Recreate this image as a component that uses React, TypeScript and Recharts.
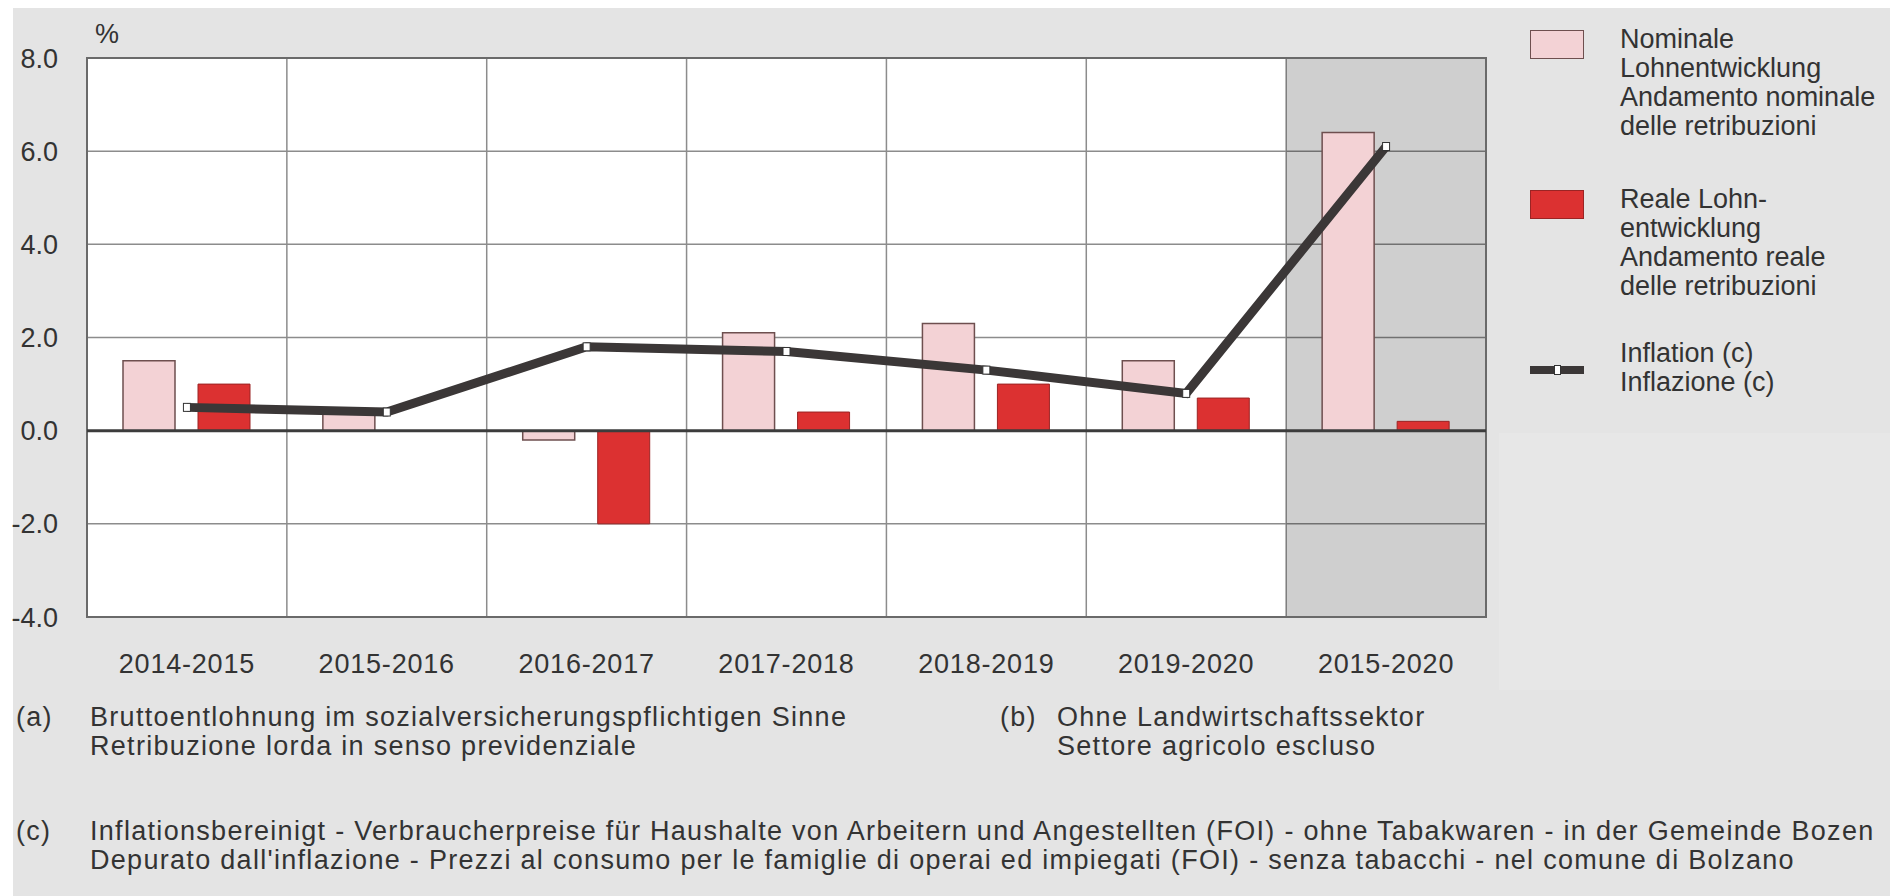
import React from 'react';
import {
  ComposedChart,
  Bar,
  Line,
  XAxis,
  YAxis,
  CartesianGrid,
  ReferenceArea,
  ReferenceLine,
} from 'recharts';

const categories = ['2014-2015', '2015-2016', '2016-2017', '2017-2018', '2018-2019', '2019-2020', '2015-2020'];
const nominalWages = [1.5, 0.4, -0.2, 2.1, 2.3, 1.5, 6.4];
const realWages = [1.0, 0.0, -2.0, 0.4, 1.0, 0.7, 0.2];
const inflationRates = [0.5, 0.4, 1.8, 1.7, 1.3, 0.8, 6.1];
const yTicks = [-4, -2, 0, 2, 4, 6, 8];
const highlightedCategory = '2015-2020';

const legendNominal = ['Nominale', 'Lohnentwicklung', 'Andamento nominale', 'delle retribuzioni'];
const legendReal = ['Reale Lohn-', 'entwicklung', 'Andamento reale', 'delle retribuzioni'];
const legendInflation = ['Inflation (c)', 'Inflazione (c)'];

const noteA = ['Bruttoentlohnung im sozialversicherungspflichtigen Sinne', 'Retribuzione lorda in senso previdenziale'];
const noteB = ['Ohne Landwirtschaftssektor', 'Settore agricolo escluso'];
const noteC = [
  'Inflationsbereinigt - Verbraucherpreise für Haushalte von Arbeitern und Angestellten (FOI) - ohne Tabakwaren - in der Gemeinde Bozen',
  "Depurato dall'inflazione - Prezzi al consumo per le famiglie di operai ed impiegati (FOI) - senza tabacchi - nel comune di Bolzano",
];

const data = categories.map((c, i) => ({
  cat: c,
  nominal: nominalWages[i],
  real: realWages[i],
  inflation: inflationRates[i],
}));

const FONT = '"Liberation Sans", Arial, Helvetica, sans-serif';
const TEXT = '#333333';
const BG = '#e4e4e4';
const PINK = '#f3d2d5';
const PINK_STROKE = '#6e4f4f';
const RED = '#dc3131';
const RED_STROKE = '#9b2424';
const LINE = '#3b3737';

const SquareDot = (props: any) => {
  const { cx, cy } = props;
  if (cx == null || cy == null) return null;
  return <rect x={cx - 3.5} y={cy - 4} width={7} height={8} fill="#ffffff" stroke="#333" strokeWidth={1} />;
};

const categoryBoundaries = ({ offset }: any) =>
  [...categories, ''].map((_, i) => offset.left + (offset.width * i) / categories.length);

const textStyle: React.CSSProperties = {
  position: 'absolute',
  fontFamily: FONT,
  fontSize: 27,
  letterSpacing: '1.3px',
  lineHeight: '29px',
  color: TEXT,
  whiteSpace: 'nowrap',
};

const LegendText = ({ lines, top }: { lines: string[]; top: number }) => (
  <div style={{ ...textStyle, left: 1620, top, letterSpacing: 0 }}>
    {lines.map((l) => (
      <div key={l}>{l}</div>
    ))}
  </div>
);

export default function App() {
  return (
    <div style={{ position: 'absolute', left: 0, top: 0, width: 1890, height: 896, background: '#ffffff', overflow: 'hidden' }}>
      <div style={{ position: 'absolute', left: 13, top: 8, width: 1877, height: 888, background: BG }} />
      <div style={{ position: 'absolute', left: 1499, top: 433, width: 391, height: 257, background: '#e7e7e7' }} />

      <div style={{ position: 'absolute', left: 0, top: 0 }}>
        <ComposedChart
          width={1890}
          height={896}
          data={data}
          margin={{ top: 58, right: 404, bottom: 239, left: 27 }}
          barSize={52}
          barGap={23}
        >
          <CartesianGrid
            stroke="#8c8c8c"
            strokeWidth={1.5}
            fill="#ffffff"
            verticalCoordinatesGenerator={categoryBoundaries}
          />
          <ReferenceArea
            x1={highlightedCategory}
            x2={highlightedCategory}
            y1={-4}
            y2={8}
            fill="#000000"
            fillOpacity={0.19}
            stroke="none"
          />
          <XAxis
            dataKey="cat"
            type="category"
            height={40}
            tickSize={0}
            tickMargin={37}
            axisLine={false}
            tickLine={false}
            tick={{ fill: TEXT, fontSize: 27, fontFamily: FONT, letterSpacing: '0.8px' }}
            interval={0}
          />
          <YAxis
            type="number"
            domain={[-4, 8]}
            ticks={yTicks}
            width={60}
            tickSize={0}
            tickMargin={29}
            axisLine={false}
            tickLine={false}
            tickFormatter={(v: number) => v.toFixed(1)}
            tick={{ fill: TEXT, fontSize: 27, fontFamily: FONT }}
          />
          <Bar dataKey="nominal" fill={PINK} stroke={PINK_STROKE} strokeWidth={1.5} isAnimationActive={false} />
          <Bar dataKey="real" fill={RED} stroke={RED_STROKE} strokeWidth={1} isAnimationActive={false} />
          <ReferenceLine y={0} stroke="#3c3c3c" strokeWidth={3} />
          <ReferenceArea
            x1={categories[0]}
            x2={categories[categories.length - 1]}
            y1={-4}
            y2={8}
            fill="none"
            stroke="#6a6a6a"
            strokeWidth={2}
          />
          <Line
            dataKey="inflation"
            stroke={LINE}
            strokeWidth={9}
            dot={<SquareDot />}
            activeDot={false}
            isAnimationActive={false}
          />
        </ComposedChart>
      </div>

      <div style={{ ...textStyle, left: 95, top: 20, letterSpacing: 0 }}>%</div>

      <div style={{ position: 'absolute', left: 1530, top: 30, width: 52, height: 27, background: PINK, border: `1.5px solid ${PINK_STROKE}` }} />
      <LegendText lines={legendNominal} top={25} />
      <div style={{ position: 'absolute', left: 1530, top: 190, width: 52, height: 27, background: RED, border: `1px solid ${RED_STROKE}` }} />
      <LegendText lines={legendReal} top={185} />
      <div style={{ position: 'absolute', left: 1530, top: 366, width: 54, height: 8, background: LINE }} />
      <div style={{ position: 'absolute', left: 1554, top: 365, width: 5, height: 8, background: '#fff', border: '1px solid #333' }} />
      <LegendText lines={legendInflation} top={339} />

      <div style={{ ...textStyle, left: 16, top: 703 }}>(a)</div>
      <div style={{ ...textStyle, left: 90, top: 703 }}>
        {noteA.map((l) => (
          <div key={l}>{l}</div>
        ))}
      </div>
      <div style={{ ...textStyle, left: 1000, top: 703 }}>(b)</div>
      <div style={{ ...textStyle, left: 1057, top: 703 }}>
        {noteB.map((l) => (
          <div key={l}>{l}</div>
        ))}
      </div>
      <div style={{ ...textStyle, left: 16, top: 817 }}>(c)</div>
      <div style={{ ...textStyle, left: 90, top: 817 }}>
        {noteC.map((l) => (
          <div key={l}>{l}</div>
        ))}
      </div>
    </div>
  );
}
